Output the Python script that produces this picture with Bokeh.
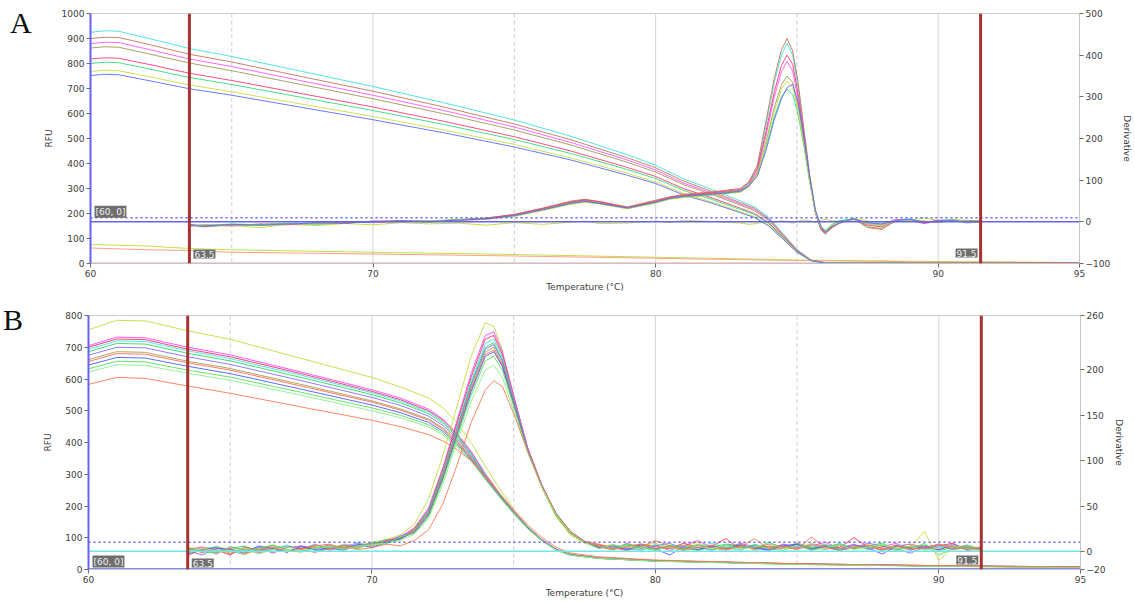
from bokeh.plotting import figure
from bokeh.models import Range1d, LinearAxis, FixedTicker, Span, Label, Div
from bokeh.layouts import column, row
from bokeh.embed import file_html
from bokeh.resources import INLINE

# ---------------- Panel A data ----------------
TA_RFU = [60, 60.5, 61, 62, 63.5, 65, 67.5, 70, 72.5, 75, 77, 79, 80, 81, 82, 83, 83.5, 84, 84.5, 85, 85.5, 86, 90, 95]
A_rfu_cyan = [925, 931, 929, 902, 860, 828, 768, 708, 643, 574, 509, 435, 393, 338, 296, 250, 227, 185, 120, 56, 14, 3, 2, 1]
A_rfu_brown = [900, 905, 904, 878, 837, 806, 747, 689, 626, 558, 495, 423, 383, 329, 288, 243, 221, 180, 117, 54, 14, 2, 1, 1]
A_rfu_magenta = [880, 885, 884, 858, 818, 788, 730, 673, 612, 546, 484, 414, 374, 321, 282, 238, 216, 176, 114, 53, 13, 4, 3, 2]
A_rfu_olive = [862, 867, 865, 840, 802, 771, 715, 659, 599, 534, 474, 405, 366, 315, 276, 233, 211, 172, 112, 52, 13, 2, 2, 1]
A_rfu_red = [818, 823, 821, 798, 761, 732, 679, 626, 569, 507, 450, 384, 348, 299, 262, 221, 200, 164, 106, 49, 12, 3, 4, 3]
A_rfu_green = [800, 805, 803, 780, 744, 716, 664, 612, 556, 496, 440, 376, 340, 292, 256, 216, 196, 160, 104, 48, 12, 2, 1, 0]
A_rfu_yellow = [768, 773, 771, 749, 714, 687, 637, 588, 534, 476, 422, 361, 326, 280, 246, 207, 188, 154, 100, 46, 12, 3, 2, 1]
A_rfu_blue = [752, 757, 755, 733, 699, 673, 624, 575, 523, 466, 414, 353, 320, 274, 241, 203, 184, 150, 98, 45, 11, 2, 1, 1]

TA_NTC = [60, 62, 63.5, 65, 70, 75, 80, 85, 90, 95]
A_ntc_green = [76, 70, 60, 55, 45, 36, 25, 14, 8, 4]
A_ntc_orange = [62, 55, 52, 45, 38, 30, 21, 12, 6, 3]
A_zero_T = [60, 95]
A_zero = [0, 0]

TA_D = [63.5, 64, 65, 66, 67, 68, 69, 70, 71, 72, 73, 74, 75, 76, 77, 77.5, 78, 79, 80, 80.5, 81, 82,
        83, 83.3, 83.6, 83.9, 84.2, 84.45, 84.65, 84.85, 85.05, 85.25, 85.45, 85.65, 85.85, 86.0, 86.25, 86.5,
        87, 87.5, 88, 88.5, 89, 89.5, 90, 90.5, 91, 91.5]
A_d_cyan = [-8, -12, -6, -9, -4, -6, -2, 0, 3, -1, 4, 7, 15, 30, 47, 52, 47, 33, 49, 58, 63, 69,
            76, 92, 130, 230, 335, 400, 428, 400, 320, 215, 110, 25, -20, -28, -12, 2,
            7, -6, -10, 5, 7, -2, 3, 6, -3, 0]
A_d_brown = [-10, -8, -9, -5, -7, -3, -4, 2, 0, 2, 5, 9, 18, 33, 50, 54, 49, 36, 52, 60, 66, 72,
             80, 96, 136, 240, 345, 412, 440, 410, 330, 222, 114, 28, -18, -30, -14, -4,
             9, -12, -16, 2, 4, 1, -2, 4, 2, -1]
A_d_magenta = [-6, -10, -8, -6, -5, -4, -1, -2, 1, 3, 3, 6, 14, 28, 44, 50, 46, 34, 47, 56, 62, 67,
               74, 88, 122, 205, 300, 360, 385, 362, 292, 198, 102, 22, -16, -24, -10, 0,
               5, -4, -8, 6, 3, -4, 1, 5, -1, 2]
A_d_olive = [-9, -7, -10, -7, -3, -5, -3, 1, 2, 0, 6, 8, 16, 31, 46, 51, 45, 35, 48, 57, 61, 68,
             75, 88, 118, 190, 275, 328, 350, 335, 275, 190, 100, 24, -14, -24, -8, -2,
             8, -14, -18, 3, 6, 0, 2, 3, 4, 1]
A_d_red = [-7, -11, -7, -8, -6, -2, -3, 1, 2, 1, 4, 9, 17, 32, 48, 53, 48, 34, 50, 59, 64, 70,
           78, 94, 128, 215, 312, 375, 400, 378, 305, 205, 105, 24, -18, -26, -11, 1,
           6, -8, -12, 4, 5, -3, 4, 2, 0, 0]
A_d_green = [-8, -9, -5, -7, -4, -3, -2, 0, 1, 2, 5, 7, 14, 29, 44, 48, 44, 32, 46, 55, 60, 65,
             72, 85, 112, 178, 252, 300, 318, 306, 255, 180, 96, 26, -12, -20, -6, 3,
             6, -3, -6, 2, 5, 1, -1, 4, 1, 1]
A_d_yellow = [-10, -8, -7, -9, -5, -4, -1, 1, 0, 3, 4, 6, 13, 27, 42, 47, 43, 31, 45, 54, 58, 64,
              71, 84, 114, 185, 265, 318, 338, 322, 265, 185, 98, 25, -14, -22, -8, -1,
              5, -5, -9, 4, 3, 2, 0, 5, 2, -1]
A_d_blue = [-9, -10, -6, -8, -5, -3, -2, 0, 2, 1, 4, 7, 15, 29, 44, 49, 44, 33, 47, 56, 61, 66,
            73, 86, 110, 170, 245, 295, 322, 330, 285, 200, 108, 30, -10, -25, -12, -3,
            7, -2, -5, 3, 6, -1, 2, 3, 0, 1]
A_d_ntc = [-5, -12, -8, -14, -6, -9, -4, -7, -2, -5, -3, -8, -2, -6, -1, 2, -4, -3, 2, -2, 4, 1,
           -3, -6, -4, 2, -2, 3, 1, -4, 2, 5, 3, -2, 4, 6, 3, 2,
           8, 2, -3, 5, 4, 9, 3, 6, 2, 4]

A_colors = ["#3fe0e0", "#c0785a", "#ff55ff", "#a09a55", "#ff3a6e", "#2ee07a", "#c8e040", "#5a6cff"]
A_rfu = [A_rfu_cyan, A_rfu_brown, A_rfu_magenta, A_rfu_olive, A_rfu_red, A_rfu_green, A_rfu_yellow, A_rfu_blue]
A_der = [A_d_cyan, A_d_brown, A_d_magenta, A_d_olive, A_d_red, A_d_green, A_d_yellow, A_d_blue]

# ---------------- Panel B data ----------------
TB_RFU = [60, 61, 62, 63.5, 65, 67.5, 70, 71, 72, 72.5, 73, 73.5, 74, 74.5, 75, 75.5, 76, 76.5, 77, 78, 80, 85, 90, 95]
B_rfu_yg = [755, 785, 783, 752, 725, 665, 605, 575, 540, 510, 462, 400, 325, 255, 190, 135, 92, 62, 46, 36, 28, 18, 12, 8]
B_rfu_magenta = [705, 732, 730, 700, 676, 622, 566, 540, 505, 474, 428, 372, 302, 240, 184, 134, 94, 64, 48, 37, 28, 18, 12, 8]
B_rfu_red = [700, 726, 724, 694, 670, 617, 561, 535, 500, 470, 425, 368, 300, 238, 183, 133, 93, 64, 47, 37, 28, 18, 12, 8]
B_rfu_cyan = [694, 720, 718, 689, 664, 612, 557, 531, 496, 466, 422, 366, 298, 237, 182, 133, 93, 63, 47, 36, 28, 18, 12, 8]
B_rfu_green = [686, 712, 710, 681, 657, 605, 551, 525, 491, 461, 418, 362, 296, 236, 181, 132, 92, 63, 47, 36, 27, 17, 11, 7]
B_rfu_violet = [675, 700, 698, 670, 646, 595, 542, 517, 483, 454, 412, 358, 293, 234, 180, 131, 92, 63, 46, 36, 27, 17, 11, 7]
B_rfu_olive = [661, 686, 684, 656, 633, 583, 531, 506, 474, 446, 405, 353, 290, 232, 178, 130, 91, 62, 46, 36, 27, 17, 11, 7]
B_rfu_salmon = [655, 680, 678, 651, 628, 578, 527, 502, 470, 442, 402, 351, 289, 231, 178, 130, 91, 62, 46, 35, 27, 17, 11, 7]
B_rfu_blue = [644, 668, 666, 640, 617, 568, 518, 494, 463, 436, 397, 347, 287, 230, 177, 129, 90, 62, 46, 35, 27, 17, 11, 7]
B_rfu_green2 = [632, 656, 654, 628, 606, 558, 509, 486, 456, 430, 392, 344, 285, 229, 176, 128, 90, 61, 45, 35, 26, 16, 10, 6]
B_rfu_lgreen = [622, 645, 643, 618, 596, 549, 500, 478, 449, 424, 387, 341, 283, 228, 176, 128, 90, 61, 45, 35, 26, 16, 10, 6]
B_rfu_orange = [583, 605, 602, 578, 555, 512, 470, 450, 425, 405, 378, 342, 295, 240, 188, 140, 100, 70, 52, 40, 30, 18, 12, 8]

TB_D = [63.5, 64, 64.5, 65, 65.5, 66, 66.5, 67, 67.5, 68, 68.5, 69, 69.5, 70, 70.5, 71, 71.5, 72, 72.5, 73,
        73.5, 74, 74.3, 74.6, 75, 75.5, 76, 76.5, 77, 77.5, 78, 78.5, 79, 79.5, 80, 80.5, 81, 81.5, 82, 82.5,
        83, 83.5, 84, 84.5, 85, 85.5, 86, 86.5, 87, 87.5, 88, 88.5, 89, 89.5, 90, 90.5, 91, 91.5]
B_d_yg = [5, -2, 6, 1, -4, 3, 7, 2, 0, 5, 3, 8, 6, 10, 13, 18, 30, 58, 105, 160, 215, 252, 248, 222, 172, 110, 70, 38, 18, 9,
          4, 8, 1, 6, 9, 3, 5, 10, 2, 6, 8, 1, 4, 7, 3, 9, 5, 2, 6, 4, 8, 3, 5, 22, -10, 4, 7, 3]
B_d_magenta = [0, 4, -3, 5, 2, -2, 3, 6, 2, 8, 1, 5, 9, 6, 12, 16, 26, 48, 92, 144, 196, 238, 242, 220, 172, 114, 73, 41, 21, 11,
               5, 2, 9, 3, 7, 1, 6, 12, 4, 3, 9, 5, 1, 7, 4, 6, 10, 3, 8, 2, 5, 9, 1, 6, 4, 8, 2, 4]
B_d_red = [3, -1, 2, -4, 5, 1, 4, -1, 6, 3, 7, 2, 6, 9, 10, 14, 25, 46, 90, 141, 192, 234, 238, 217, 170, 113, 72, 40, 20, 10,
           7, 4, 2, 8, 5, 3, 9, 4, 6, 14, 2, 7, 5, 3, 8, 1, 6, 4, 15, 5, 2, 7, 4, 3, 6, 9, 1, 3]
B_d_cyan = [-2, 3, 5, 0, -3, 4, 2, 7, 1, -1, 5, 3, 10, 5, 9, 15, 23, 44, 86, 137, 188, 229, 234, 214, 168, 112, 72, 40, 21, 10,
            4, 6, 3, 1, 7, 5, 2, 6, 9, 4, 1, 8, 3, 6, 2, 7, 4, 9, 3, 5, 1, 6, 8, 2, 5, 3, 7, 1]
B_d_green = [4, 1, -2, 3, 6, -1, 2, 5, 3, 7, 4, 2, 7, 8, 13, 14, 24, 45, 87, 136, 185, 225, 230, 211, 166, 111, 71, 39, 20, 10,
             6, 3, 8, 5, 2, 7, 4, 1, 5, 8, 6, 3, 10, 4, 7, 2, 5, 8, 3, 6, 9, 2, 5, 7, 1, 4, 6, 2]
B_d_violet = [1, -4, 3, 2, 0, 5, -2, 4, 6, 1, 3, 7, 5, 9, 10, 17, 22, 43, 84, 134, 183, 223, 228, 210, 166, 112, 72, 41, 21, 11,
              3, 7, 4, 2, 6, 9, 3, 5, 1, 7, 4, 6, 2, 8, 5, 3, 7, 1, 4, 9, 6, 3, -2, 5, 7, 2, 4, 3]
B_d_olive = [-1, 2, 4, -2, 3, 1, 6, 0, 3, 5, 2, 6, 4, 8, 11, 13, 23, 42, 83, 132, 180, 220, 225, 207, 164, 110, 71, 40, 20, 10,
             5, 2, 6, 8, 3, 4, 7, 2, 5, 3, 8, 2, 6, 4, 9, 5, 2, 6, 3, 7, 4, 1, 6, 3, 8, 5, 2, 4]
B_d_salmon = [2, 5, 1, -3, 4, 2, -1, 5, 3, 6, 8, 3, 7, 6, 12, 15, 22, 41, 81, 130, 178, 217, 222, 205, 163, 110, 72, 41, 22, 11,
              8, 4, 1, 5, 12, 6, 2, 7, 4, 1, 6, 3, 8, 5, 2, 16, 4, 7, 3, 6, 1, 5, 8, 4, 2, 6, 3, 5]
B_d_blue = [-3, 1, 4, 2, -2, 6, 3, -1, 5, 2, 4, 1, 8, 4, 10, 14, 21, 40, 80, 128, 176, 215, 220, 204, 163, 111, 72, 42, 22, 11,
            4, 6, 2, 7, 3, -4, 5, 2, 6, 3, 7, 4, 1, 6, 8, 3, 5, 2, 7, 4, -3, 6, 3, 5, 2, 7, 4, 2]
B_d_green2 = [3, 0, -2, 5, 1, 3, 7, 2, -1, 4, 6, 5, 3, 9, 8, 16, 20, 38, 78, 125, 172, 210, 215, 200, 160, 110, 71, 41, 21, 10,
              6, 3, 7, 4, 1, 6, 3, 8, 2, 5, 4, 7, 3, 1, 6, 4, 8, 2, 5, 3, 7, 4, 2, 9, -4, 3, 6, 2]
B_d_lgreen = [0, 3, 1, -1, 4, -3, 2, 5, 1, 3, 5, 2, 6, 7, 9, 12, 19, 36, 74, 120, 165, 200, 205, 192, 155, 108, 70, 40, 21, 10,
              3, 7, 5, 2, 8, 4, 1, 6, 3, 7, 2, 5, 9, 3, 6, 1, 4, 7, 2, 5, 8, 3, 6, 1, 4, 7, 3, 1]
B_d_orange = [-5, 2, -1, 3, -2, 1, 4, 0, 2, -1, 3, 5, 2, 4, 8, 6, 12, 24, 52, 95, 142, 178, 188, 182, 152, 110, 72, 42, 22, 11,
              6, 2, 5, 8, 3, 6, 1, 4, 7, 2, 5, 14, 3, 6, 2, 8, 4, 1, 5, 7, 3, 6, 2, 4, 8, 3, 5, 1]

B_colors = ["#c6dc3a", "#ff44ff", "#ff3060", "#40e6e6", "#30d860", "#8a6cff", "#a0a050", "#ff6a5a",
            "#4a5cff", "#58e058", "#8cf08c", "#ff7a50"]
B_rfu = [B_rfu_yg, B_rfu_magenta, B_rfu_red, B_rfu_cyan, B_rfu_green, B_rfu_violet, B_rfu_olive, B_rfu_salmon,
         B_rfu_blue, B_rfu_green2, B_rfu_lgreen, B_rfu_orange]
B_der = [B_d_yg, B_d_magenta, B_d_red, B_d_cyan, B_d_green, B_d_violet, B_d_olive, B_d_salmon,
         B_d_blue, B_d_green2, B_d_lgreen, B_d_orange]

MELT_START = 63.5
MELT_END = 91.5
THRESHOLD = 10
X_TICKS = [60, 70, 80, 90, 95]
GRID_SOLID = [70, 80, 90]
GRID_DASHED = [65, 75, 85]

FONT = "DejaVu Sans"
BLUE = "#6464f0"
LETTER_W = 40


def style_axis(ax):
    ax.major_label_text_font = FONT
    ax.major_label_text_font_size = "9px"
    ax.major_label_text_color = "#3c3c3c"
    ax.axis_label_text_font = FONT
    ax.axis_label_text_font_size = "9px"
    ax.axis_label_text_font_style = "normal"
    ax.axis_label_text_color = "#3c3c3c"
    ax.minor_tick_line_color = None
    ax.major_tick_in = 0
    ax.major_tick_out = 4
    ax.major_tick_line_color = "#6a6a6a"
    ax.axis_line_color = "#c4c4c4"
    ax.major_label_standoff = 2


def make_panel(height, bl, br, bt, bb, ymax, yticks, dmin, dmax, dticks, lab_std_l, lab_std_r):
    p = figure(width=1135 - LETTER_W, height=height, x_range=Range1d(60, 95), y_range=Range1d(0, ymax),
               output_backend="svg", toolbar_location=None, margin=0,
               min_border_left=bl - LETTER_W, min_border_right=br, min_border_top=bt, min_border_bottom=bb)
    p.extra_y_ranges = {"d": Range1d(dmin, dmax)}
    p.grid.visible = False
    p.outline_line_color = "#cdcdcd"
    p.background_fill_color = "white"
    p.border_fill_color = "white"
    left = p.yaxis[0]
    left.ticker = FixedTicker(ticks=yticks)
    left.axis_label = "RFU"
    bottom = p.xaxis[0]
    bottom.ticker = FixedTicker(ticks=X_TICKS)
    bottom.axis_label = "Temperature (\u00b0C)"
    right = LinearAxis(y_range_name="d", axis_label="Derivative", ticker=FixedTicker(ticks=dticks))
    p.add_layout(right, "right")
    for ax in (left, bottom, right):
        style_axis(ax)
    left.axis_line_color = BLUE
    left.axis_line_width = 2
    left.axis_label_standoff = lab_std_l
    right.axis_label_standoff = lab_std_r
    bottom.axis_label_standoff = 2
    for g in GRID_SOLID:
        p.add_layout(Span(location=g, dimension="height", line_color="#d4d4d4", line_width=1, level="underlay"))
    for g in GRID_DASHED:
        p.add_layout(Span(location=g, dimension="height", line_color="#cccccc", line_width=1,
                          line_dash="4 3", level="underlay"))
    return p


# ---------------- Panel A ----------------
pA = make_panel(298, 88, 45, 13, 35, 1000, list(range(0, 1001, 100)), -100, 500,
                [-100, 0, 100, 200, 300, 400, 500], 5, 9)
pA.line(A_zero_T, A_zero, line_color="#f4a4a4", line_width=2)
pA.line(TA_NTC, A_ntc_green, line_color="#bde04a", line_width=1)
pA.line(TA_NTC, A_ntc_orange, line_color="#ffa088", line_width=1)
for ys, c in zip(A_rfu, A_colors):
    pA.line(TA_RFU, ys, line_color=c, line_width=1, line_alpha=0.9)
pA.line(TA_D, A_d_ntc, line_color="#c8e040", line_width=1, y_range_name="d")
for ys, c in zip(A_der, A_colors):
    pA.line(TA_D, ys, line_color=c, line_width=1, line_alpha=0.9, y_range_name="d")
pA.line([60, 95], [0, 0], line_color=BLUE, line_width=1.5, y_range_name="d")
pA.line([60, 95], [THRESHOLD, THRESHOLD], line_color=BLUE, line_width=1.5, line_dash="2 3", y_range_name="d")

# ---------------- Panel B ----------------
pB = make_panel(305, 83, 55, 17, 34, 800, list(range(0, 801, 100)), -20, 260,
                [-20, 0, 50, 100, 150, 200, 260], 9, 6)
for ys, c in zip(B_rfu, B_colors):
    pB.line(TB_RFU, ys, line_color=c, line_width=1, line_alpha=0.9)
for ys, c in zip(B_der, B_colors):
    pB.line(TB_D, ys, line_color=c, line_width=1, line_alpha=0.9, y_range_name="d")
pB.line([60, 95], [0, 0], line_color="#70e8e8", line_width=1.5, y_range_name="d")
pB.line([60, 95], [THRESHOLD, THRESHOLD], line_color=BLUE, line_width=1.5, line_dash="2 3", y_range_name="d")
pB.line([60, 95], [0, 0], line_color=BLUE, line_width=2.5)

# ---------------- markers and labels ----------------
box = dict(text_font=FONT, text_font_size="9px", text_color="#f0f0f0",
           background_fill_color="#6e6e6e", padding=1)
for p, yo_a, yo_b, yo_c in ((pA, 4, 5, 6), (pB, 2, 2, 5)):
    for t in (MELT_START, MELT_END):
        p.add_layout(Span(location=t, dimension="height", line_color="#a83232", line_width=3))
    if p is pA:
        p.add_layout(Label(x=60, y=0, y_range_name="d", x_offset=4, y_offset=yo_a, text="[60, 0]", **box))
    else:
        p.add_layout(Label(x=60, y=0, x_offset=4, y_offset=yo_a, text="[60, 0]", **box))
    p.add_layout(Label(x=MELT_START, y=0, x_offset=4, y_offset=yo_b, text=str(MELT_START), **box))
    p.add_layout(Label(x=MELT_END, y=0, x_offset=-3, y_offset=yo_c, text=str(MELT_END),
                       text_align="right", **box))


def letter(txt, h, pad_top, pad_left):
    return Div(text=txt, width=LETTER_W, height=h, margin=0,
               styles={"font-family": "Liberation Serif", "font-size": "30px", "line-height": "1",
                       "color": "#111111", "padding-top": f"{pad_top}px", "padding-left": f"{pad_left}px",
                       "box-sizing": "border-box", "background": "white"})


layout = column(row(letter("A", 298, 8, 10), pA, spacing=0),
                row(letter("B", 305, 7, 3), pB, spacing=0), spacing=0)
open("out.html", "w").write(file_html(layout, INLINE))
